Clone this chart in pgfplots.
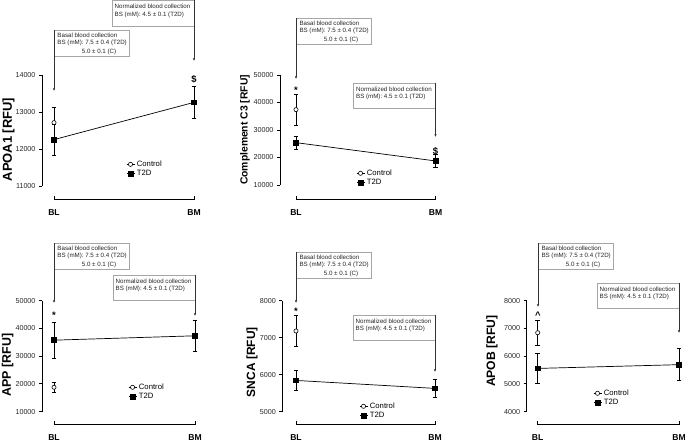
\documentclass[border=0pt]{standalone}
\usepackage{fontspec}
\setmainfont{Liberation Sans}
\usepackage{pgfplots}
\pgfplotsset{compat=1.18}
\usetikzlibrary{arrows.meta}

\pgfplotsset{
  panel/.style={
    scale only axis, clip=false,
    xmax=1,
    axis x line*=bottom, axis y line*=left,
    axis line style={draw=none},
    xtick={0,1}, xticklabels={BL,BM},
    scaled y ticks=false,
    tick align=outside,
    major tick length=3bp,
    tick style={draw=none},
    y tick label style={font=\fontsize{7.2}{8}\selectfont, text=black!85},
    x tick label style={font=\bfseries\fontsize{8.6}{10}\selectfont},
    ylabel style={anchor=center},
    legend style={draw=none, fill=none, anchor=west, font=\fontsize{7.75}{8.5}\selectfont, inner sep=0pt, row sep=-1.5bp, cells={anchor=west}},
    legend image code/.code={\draw[mark repeat=2,mark phase=2,##1] plot coordinates {(0bp,0bp) (4bp,0bp) (8bp,0bp)};},
    error bars/error bar style={black, line width=0.7bp},
    error bars/error mark options={rotate=90, mark size=2.4bp, black, line width=0.7bp},
    /pgf/number format/1000 sep={},
    /pgf/number format/assume math mode=true,
  },
  ctrl/.style={black, line width=0.7bp, mark=*, mark size=2.1bp, mark options={fill=white, draw=black, line width=0.6bp}, error bars/.cd, y dir=both, y explicit},
  t2d/.style={black, line width=0.7bp, mark=square*, mark size=2.4bp, mark options={fill=black}, error bars/.cd, y dir=both, y explicit},
}

\newcommand\basal[3]{%
  \draw[gray!70, line width=0.5bp, fill=white] (#1,#2) rectangle ++(75,26.5);
  \draw[black!80, line width=0.6bp, -{Latex[length=2.5bp,width=2.4bp]}] (#1,#2) -- (#1,#3);
  \node[anchor=west, inner sep=0pt] at (#1+3.3,#2+5) {Basal blood collection};
  \node[anchor=west, inner sep=0pt] at (#1+3.3,#2+13.3) {BS (mM): 7.5 ± 0.4 (T2D)};
  \node[anchor=west, inner sep=0pt] at (#1+27.7,#2+21.7) {5.0 ± 0.1 (C)};
}
\newcommand\norml[3]{%
  \draw[gray!70, line width=0.5bp, fill=white] (#1-82,#2) rectangle (#1,#2+25.5);
  \draw[black!80, line width=0.6bp, -{Latex[length=2.5bp,width=2.4bp]}] (#1,#2) -- (#1,#3);
  \node[anchor=west, inner sep=0pt] at (#1-79.5,#2+6) {Normalized blood collection};
  \node[anchor=west, inner sep=0pt] at (#1-79.5,#2+14.3) {BS (mM): 4.5 ± 0.1 (T2D)};
}

\begin{document}
\begin{tikzpicture}
\useasboundingbox (0,0) rectangle (685bp,441bp);

% APOA1
\begin{axis}[panel, at={(42bp,255bp)}, anchor=south west, width=152bp, height=110.5bp,
  xmin=-0.0857,
  ymin=11000, ymax=14000, ytick={11000,12000,13000,14000},
  x tick label style={yshift=-17bp},
  ylabel={APOA1 [RFU]},
  ylabel style={at={(axis description cs:-0.22,0.42)}, font=\bfseries\fontsize{13}{14}\selectfont},
  legend style={at={(axis cs:0.514,11461)}}]
\addplot[ctrl] coordinates {(0,12720) +- (0,425)};
\addplot[t2d] coordinates {(0,12260) +- (0,420) (1,13270) +- (0,430)};
\legend{Control,T2D}
\end{axis}

% Complement C3
\begin{axis}[panel, at={(280bp,256bp)}, anchor=south west, width=155.5bp, height=110bp,
  xmin=-0.1147,
  ymin=10000, ymax=50000, ytick={10000,20000,30000,40000,50000},
  x tick label style={yshift=-18.3bp},
  ylabel={Complement C3 [RFU]},
  ylabel style={at={(axis description cs:-0.225,0.5)}, font=\bfseries\fontsize{10.4}{12}\selectfont},
  legend style={at={(axis cs:0.43,12545)}}]
\addplot[ctrl] coordinates {(0,37400) +- (0,5700)};
\addplot[t2d] coordinates {(0,25400) +- (0,2300) (1,18750) +- (0,2300)};
\legend{Control,T2D}
\end{axis}

% APP
\begin{axis}[panel, at={(42bp,29.3bp)}, anchor=south west, width=153bp, height=111bp,
  xmin=-0.0851,
  ymin=10000, ymax=50000, ytick={10000,20000,30000,40000,50000},
  x tick label style={yshift=-16.3bp},
  ylabel={APP [RFU]},
  ylabel style={at={(axis description cs:-0.225,0.42)}, font=\bfseries\fontsize{12.5}{14}\selectfont},
  legend style={at={(axis cs:0.525,17100)}}]
\addplot[ctrl] coordinates {(0,18800) +- (0,1800)};
\addplot[t2d] coordinates {(0,35780) +- (0,6500) (1,37350) +- (0,5550)};
\legend{Control,T2D}
\end{axis}

% SNCA
\begin{axis}[panel, at={(282.3bp,29.3bp)}, anchor=south west, width=152.7bp, height=111bp,
  xmin=-0.0986,
  ymin=5000, ymax=8000, ytick={5000,6000,7000,8000},
  x tick label style={yshift=-16.3bp},
  ylabel={SNCA [RFU]},
  ylabel style={at={(axis description cs:-0.198,0.446)}, font=\bfseries\fontsize{12}{13}\selectfont},
  legend style={at={(axis cs:0.453,5019)}}]
\addplot[ctrl] coordinates {(0,7182) +- (0,427)};
\addplot[t2d] coordinates {(0,5845) +- (0,265) (1,5630) +- (0,250)};
\legend{Control,T2D}
\end{axis}

% APOB
\begin{axis}[panel, at={(526.7bp,29.3bp)}, anchor=south west, width=152.3bp, height=111bp,
  xmin=-0.0778,
  ymin=4000, ymax=8000, ytick={4000,5000,6000,7000,8000},
  x tick label style={yshift=-16.3bp},
  ylabel={APOB [RFU]},
  ylabel style={at={(axis description cs:-0.228,0.545)}, font=\bfseries\fontsize{12.2}{13}\selectfont},
  legend style={at={(axis cs:0.391,4494)}}]
\addplot[ctrl] coordinates {(0,6846) +- (0,440)};
\addplot[t2d] coordinates {(0,5560) +- (0,550) (1,5695) +- (0,580)};
\legend{Control,T2D}
\end{axis}

\begin{scope}[x=1bp, y=-1bp, shift={(0,441bp)}]
  % y axes with ticks
  \draw[black, line width=0.9bp] (42,75.5) -- (42,186)
    (38.8,75.5) -- (42,75.5) (38.8,112.33) -- (42,112.33) (38.8,149.17) -- (42,149.17) (38.8,186) -- (42,186);
  \draw[black, line width=0.9bp] (280,75) -- (280,185)
    (276.8,75) -- (280,75) (276.8,102.5) -- (280,102.5) (276.8,130) -- (280,130) (276.8,157.5) -- (280,157.5) (276.8,185) -- (280,185);
  \draw[black, line width=0.9bp] (42,300.7) -- (42,411.7)
    (38.8,300.7) -- (42,300.7) (38.8,328.45) -- (42,328.45) (38.8,356.2) -- (42,356.2) (38.8,383.95) -- (42,383.95) (38.8,411.7) -- (42,411.7);
  \draw[black, line width=0.9bp] (282.3,300.7) -- (282.3,411.7)
    (279.1,300.7) -- (282.3,300.7) (279.1,337.7) -- (282.3,337.7) (279.1,374.7) -- (282.3,374.7) (279.1,411.7) -- (282.3,411.7);
  \draw[black, line width=0.9bp] (526.7,300.7) -- (526.7,411.7)
    (523.5,300.7) -- (526.7,300.7) (523.5,328.45) -- (526.7,328.45) (523.5,356.2) -- (526.7,356.2) (523.5,383.95) -- (526.7,383.95) (523.5,411.7) -- (526.7,411.7);
  % x-axis brackets
  \draw[black, line width=0.9bp] (54,195.8) -- (54,199) -- (194,199) -- (194,195.8);
  \draw[black, line width=0.9bp] (296,196.1) -- (296,199.3) -- (435.5,199.3) -- (435.5,196.1);
  \draw[black, line width=0.9bp] (54,420.8) -- (54,424) -- (195,424) -- (195,420.8);
  \draw[black, line width=0.9bp] (296,420.8) -- (296,424) -- (435,424) -- (435,420.8);
  \draw[black, line width=0.9bp] (537.7,420.8) -- (537.7,424) -- (679,424) -- (679,420.8);
\end{scope}

\begin{scope}[x=1bp, y=-1bp, shift={(0,441bp)}, font=\fontsize{6.2}{7}\selectfont, text=black!85]
  \basal{54}{30}{91}
  \norml{194}{0.5}{61}
  \basal{296}{18}{79}
  \norml{435.5}{83}{137}
  \basal{54}{243}{303}
  \norml{195}{275}{316}
  \basal{296}{252}{303}
  \norml{435}{315}{372}
  \basal{538}{243}{307}
  \norml{679}{283}{333}
  \begin{scope}[font=\bfseries\fontsize{9.5}{10}\selectfont, text=black]
    \node at (194,79) {\$};
    \node at (296,90) {*};
    \node at (435.5,151) {\$};
    \node at (54,315) {*};
    \node at (296,311) {*};
    \node at (538,315) {\^{}};
  \end{scope}
\end{scope}
\end{tikzpicture}
\end{document}
